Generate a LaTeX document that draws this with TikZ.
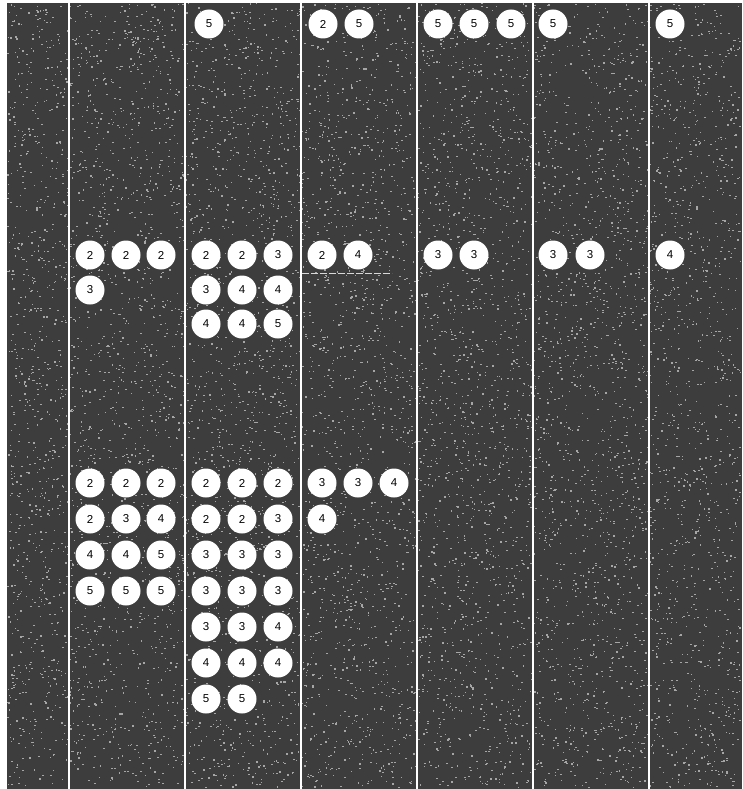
\documentclass[tikz,border=0pt]{standalone}
\usepackage{fontspec}
\setsansfont{Liberation Sans}
\tikzset{
  ball/.style={circle,fill=white,minimum size=29pt,inner sep=0pt,
    font=\sffamily\fontsize{11.5}{13}\selectfont},
  rail/.style={white,line width=2.2pt},
  speck/.style={fill=white!65!black},
}
\begin{document}
\begin{tikzpicture}[x=1pt,y=-1pt]
    \useasboundingbox (0,0) rectangle (742,789);
    \fill[black!76] (7,3) rectangle (742,789);
    % grain of the scan
    \pgfmathsetseed{11}
    \foreach \k in {1,...,10000}{
      \pgfmathsetmacro\px{7+733*rnd}
      \pgfmathsetmacro\py{3+784*rnd}
      \fill[speck] (\px,\py) rectangle ++(1.5,1.2);
    }
    % lanes
    \foreach \x in {69,185,301,417,533,649}
      \draw[rail] (\x,3) -- (\x,789);
    % top row
    \foreach \x/\n [count=\i] in {209/5,323/2,359/5,438/5,474/5,511/5,553/5,670/5}
      \node[ball] (top\i) at (\x,24) {\n};
    % middle block
    \foreach \x/\n [count=\i] in {90/2,126/2,161/2,206/2,242/2,278/3,322/2,358/4,438/3,474/3,553/3,590/3,670/4}
      \node[ball] (mida\i) at (\x,255) {\n};
    \foreach \x/\n [count=\i] in {90/3,206/3,242/4,278/4}
      \node[ball] (midb\i) at (\x,290) {\n};
    \foreach \x/\n [count=\i] in {206/4,242/4,278/5}
      \node[ball] (midc\i) at (\x,324) {\n};
    \draw[white!85!black,line width=1pt,dash pattern=on 7pt off 2pt] (302,273) -- (392,273);
    % lower block
    \foreach \x/\n [count=\i] in {90/2,126/2,161/2,206/2,242/2,278/2,322/3,358/3,394/4}
      \node[ball] (lowa\i) at (\x,483) {\n};
    \foreach \x/\n [count=\i] in {90/2,126/3,161/4,206/2,242/2,278/3,322/4}
      \node[ball] (lowb\i) at (\x,519) {\n};
    \foreach \x/\n [count=\i] in {90/4,126/4,161/5,206/3,242/3,278/3}
      \node[ball] (lowc\i) at (\x,555) {\n};
    \foreach \x/\n [count=\i] in {90/5,126/5,161/5,206/3,242/3,278/3}
      \node[ball] (lowd\i) at (\x,591) {\n};
    \foreach \x/\n [count=\i] in {206/3,242/3,278/4}
      \node[ball] (lowe\i) at (\x,627) {\n};
    \foreach \x/\n [count=\i] in {206/4,242/4,278/4}
      \node[ball] (lowf\i) at (\x,663) {\n};
    \foreach \x/\n [count=\i] in {206/5,242/5}
      \node[ball] (lowg\i) at (\x,699) {\n};
\end{tikzpicture}
\end{document}
